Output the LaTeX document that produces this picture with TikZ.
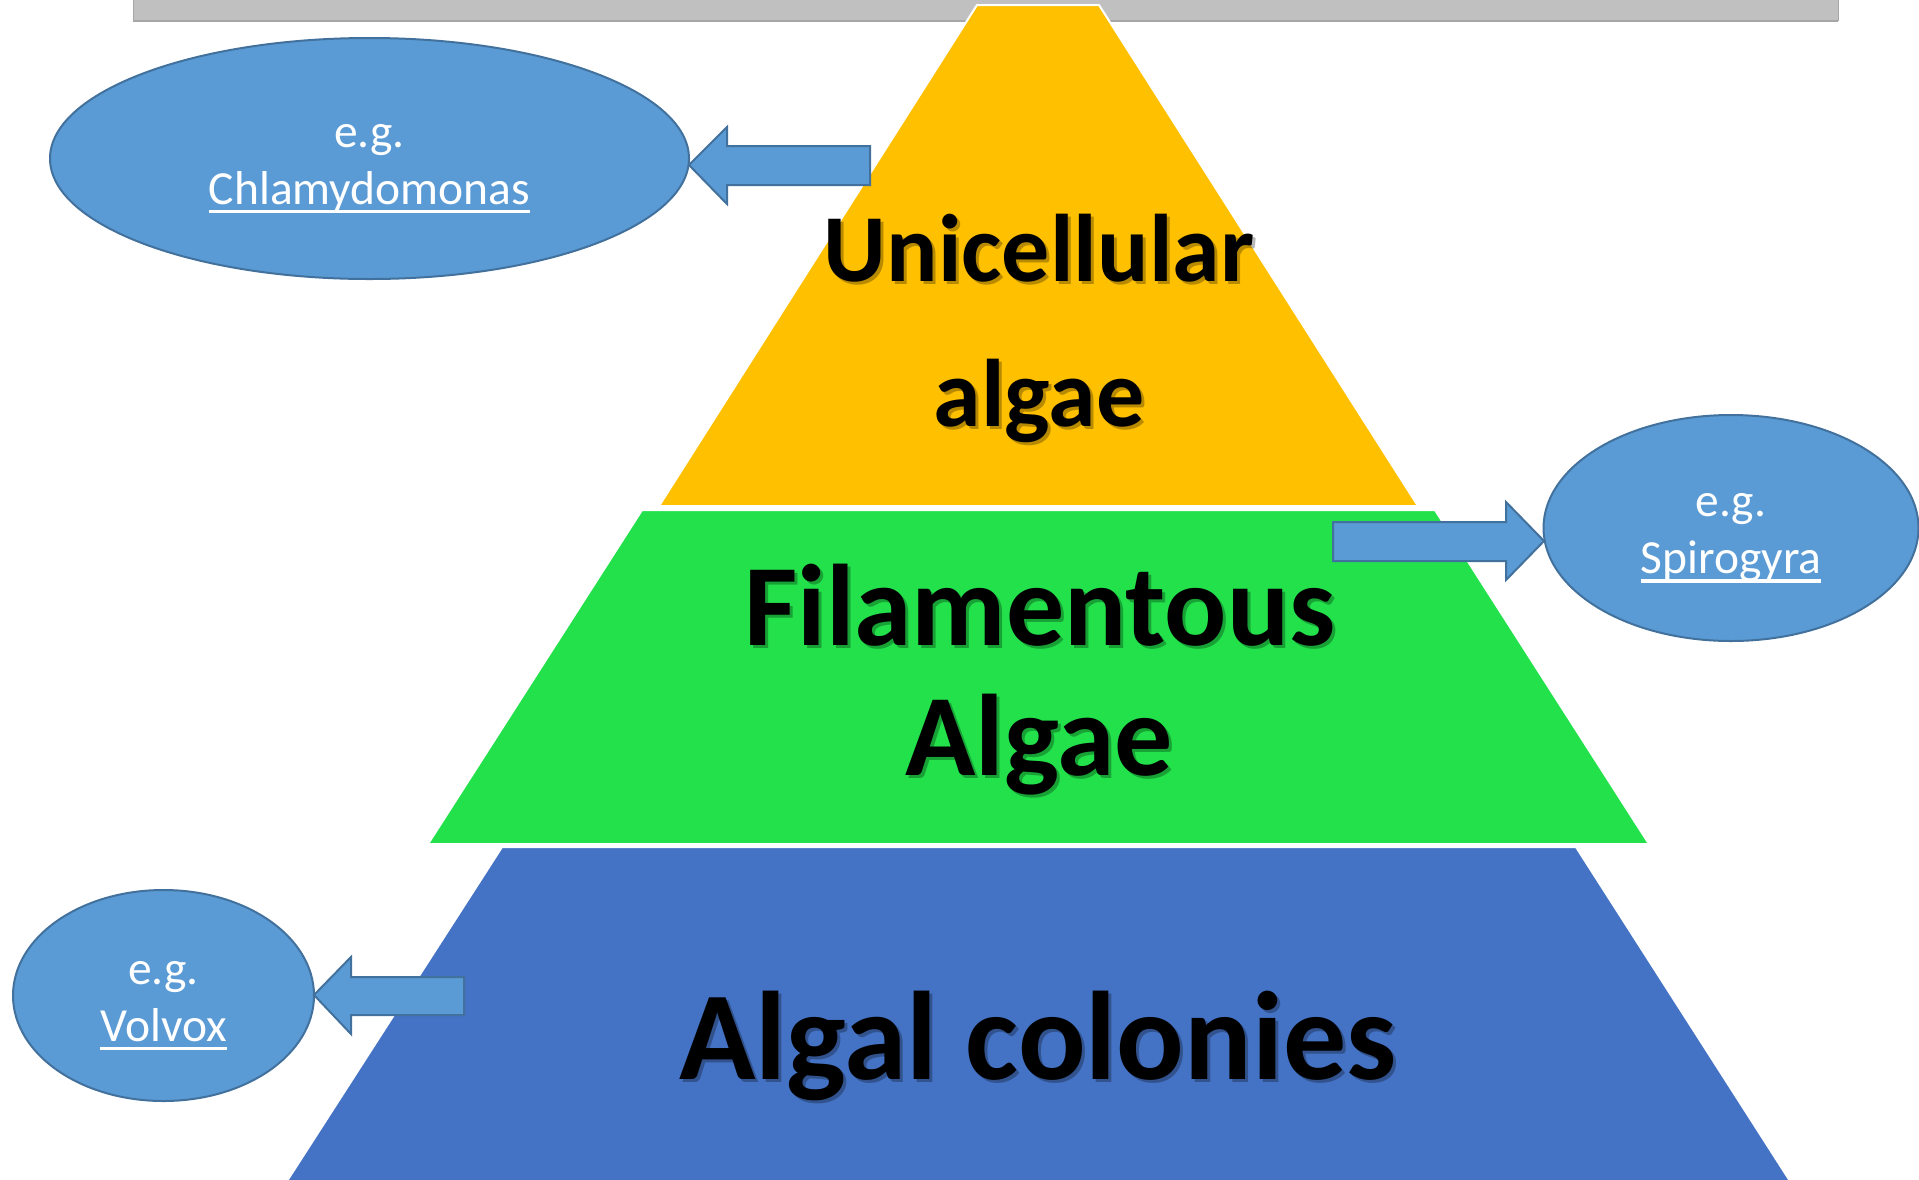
\documentclass[tikz,border=0pt]{standalone}
\usepackage{fontspec}
\setmainfont{Carlito}
\usetikzlibrary{shapes.geometric}
\definecolor{ygold}{HTML}{FFC000}
\definecolor{fgreen}{HTML}{22E14B}
\definecolor{cblue}{HTML}{4472C4}
\definecolor{lblue}{HTML}{5B9BD5}
\definecolor{lbord}{HTML}{41719C}
\definecolor{barg}{HTML}{C0C0C0}
\definecolor{barb}{HTML}{A6A6A6}
\newcommand\myul[1]{\setbox0\hbox{#1}\rlap{\rule[-0.19em]{\wd0}{0.065em}}\box0}
\tikzset{
  tier/.style={draw=white, line width=2pt, line join=miter},
  egell/.style={ellipse, draw=lbord, line width=2pt, fill=lblue, inner sep=0pt},
  egtxt/.style={inner sep=0pt, text=white, align=center, font=\fontsize{47.5}{57}\selectfont, yshift=-10pt},
  blockarrow/.style={draw=lbord, line width=2pt, fill=lblue, line join=miter},
  bigtxt/.style={anchor=base, inner sep=0pt, text=black},
  shadowtxt/.style={bigtxt, text=black, text opacity=0.28},
}
\begin{document}
\begin{tikzpicture}[x=1pt, y=-1pt]
\useasboundingbox[fill=white] (0,0) rectangle (1919,1179);
% top grey bar
\fill[barg] (133,0) rectangle (1838,21);
\draw[barb, line width=1.5pt] (133,21) -- (1838,21);
\draw[barb, line width=1pt] (133,0) -- (133,21) (1838,0) -- (1838,21);
% pyramid tiers
\path[tier, fill=cblue] (502,847) -- (1576,847) -- (1790,1181) -- (287,1181) -- cycle;
\path[tier, fill=fgreen] (642,510) -- (1435,510) -- (1649,844) -- (428,844) -- cycle;
\path[tier, fill=ygold] (977,5) -- (1099,5) -- (1418,506) -- (659,506) -- cycle;
% big labels with shadows
\node[shadowtxt, font=\fontsize{96}{96}\bfseries] (unis) at (1042,284) {Unicellular};
\node[bigtxt, font=\fontsize{96}{96}\bfseries] (uni) at (1039,281) {Unicellular};
\node[shadowtxt, font=\fontsize{96}{96}\bfseries] (alg1s) at (1042,429) {algae};
\node[bigtxt, font=\fontsize{96}{96}\bfseries] (alg1) at (1039,426) {algae};
\node[shadowtxt, font=\fontsize{116}{116}\bfseries] (fils) at (1043,648) {Filamentous};
\node[bigtxt, font=\fontsize{116}{116}\bfseries] (fil) at (1040,645) {Filamentous};
\node[shadowtxt, font=\fontsize{116}{116}\bfseries] (alg2s) at (1042,778) {Algae};
\node[bigtxt, font=\fontsize{116}{116}\bfseries] (alg2) at (1039,775) {Algae};
\node[shadowtxt, font=\fontsize{126}{126}\bfseries] (cols) at (1041,1082) {Algal colonies};
\node[bigtxt, font=\fontsize{126}{126}\bfseries] (col) at (1038,1079) {Algal colonies};
% example ellipses
\node[egell, minimum width=639pt, minimum height=241pt] (chl) at (369.5,158.5) {};
\node[egtxt] (chlt) at (chl.center) {e.g.\\\myul{Chlamydomonas}};
\node[egell, minimum width=375pt, minimum height=226pt] (spi) at (1731,528) {};
\node[egtxt] (spit) at (spi.center) {e.g.\\\myul{Spirogyra}};
\node[egell, minimum width=301pt, minimum height=211pt] (vol) at (163.5,995.5) {};
\node[egtxt] (volt) at (vol.center) {e.g.\\\myul{Volvox}};
% block arrows
\draw[blockarrow] (689,165) -- (727,127) -- (727,146) -- (870,146) -- (870,185) -- (727,185) -- (727,204) -- cycle;
\draw[blockarrow] (1544,541) -- (1506,502) -- (1506,522) -- (1333,522) -- (1333,561) -- (1506,561) -- (1506,580) -- cycle;
\draw[blockarrow] (314,995) -- (351,957) -- (351,977) -- (464,977) -- (464,1015) -- (351,1015) -- (351,1034) -- cycle;
\end{tikzpicture}
\end{document}
